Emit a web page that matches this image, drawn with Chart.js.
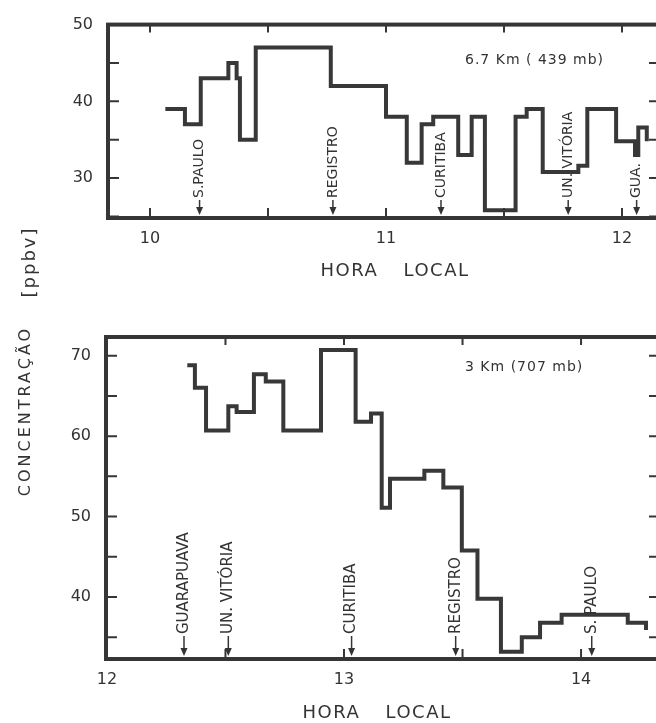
<!DOCTYPE html>
<html>
<head>
<meta charset="utf-8">
<script src="https://cdn.jsdelivr.net/npm/chart.js@4.4.1/dist/chart.umd.min.js"></script>
<style>
    html, body { margin: 0; padding: 0; background: #fff; overflow: hidden; }
    #pagina { position: relative; width: 656px; height: 723px; overflow: hidden; }
    .painel { position: absolute; left: 0; }
    .rotulo { position: absolute; font-family: "DejaVu Sans"; color: #333; white-space: nowrap;
              transform: translate(-50%, -50%) rotate(-90deg); }
</style>
</head>
<body>
<div id="pagina">
    <canvas id="graficoTopo" class="painel" width="668" height="300" style="top:0px"></canvas>
    <canvas id="graficoBase" class="painel" width="668" height="423" style="top:300px"></canvas>
    <div class="rotulo" style="left:24px; top:411px; font-size:16px; letter-spacing:3px;">CONCENTRAÇÃO</div>
    <div class="rotulo" style="left:28px; top:262px; font-size:18px; letter-spacing:2px;">[ppbv]</div>
</div>

<script>
    // 6.7 Km (439 mb): inicio de cada degrau (hora local) e concentracao (ppbv)
    var horaTopo = [10.065, 10.148, 10.215, 10.332, 10.367, 10.381, 10.448, 10.766, 11.0, 11.088, 11.151, 11.2,
                    11.306, 11.363, 11.419, 11.549, 11.596, 11.664, 11.815, 11.853, 11.975, 12.055, 12.069, 12.105];
    var concTopo = [39, 37, 43, 45, 43, 35, 47, 42, 38, 32, 37, 38,
                    33, 38, 25.8, 38, 39, 30.8, 31.6, 39, 34.8, 33, 36.6, 34.8];

    // 3 Km (707 mb)
    var horaBase = [12.339, 12.371, 12.418, 12.512, 12.547, 12.62, 12.67, 12.744, 12.903, 13.049, 13.114, 13.159,
                    13.194, 13.339, 13.419, 13.497, 13.563, 13.662, 13.75, 13.827, 13.918, 14.197, 14.274];
    var concBase = [68.8, 66.0, 60.7, 63.7, 63.0, 67.7, 66.8, 60.7, 70.7, 61.8, 62.8, 51.1,
                    54.7, 55.7, 53.6, 45.8, 39.8, 33.2, 35.0, 36.8, 37.8, 36.8, 35.9];

    // passagens pelas estacoes
    var estacoesTopo = ['S.PAULO', 'REGISTRO', 'CURITIBA', 'UN. VITÓRIA', 'GUA.'];
    var horaEstTopo = [10.21, 10.775, 11.233, 11.772, 12.062];
    var estacoesBase = ['GUARAPUAVA', 'UN. VITÓRIA', 'CURITIBA', 'REGISTRO', 'S. PAULO'];
    var horaEstBase = [12.325, 12.512, 13.032, 13.471, 14.045];

    // marcas dos eixos
    var ticksHoraTopo = [10, 10.5, 11, 11.5, 12];
    var ticksConcTopo = [25, 30, 35, 40, 45, 50];
    var ticksHoraBase = [12, 12.5, 13, 13.5, 14];
    var ticksConcBase = [35, 40, 45, 50, 55, 60, 65, 70];

    Chart.defaults.font.family = 'DejaVu Sans';
    Chart.defaults.color = '#333';

    var moldura = {
        id: 'moldura',
        afterDraw: function (chart, args, opts) {
            var ctx = chart.ctx;
            var a = chart.chartArea;
            var sx = chart.scales.x;
            var sy = chart.scales.y;
            ctx.save();
            ctx.strokeStyle = '#363636';
            ctx.fillStyle = '#333';

            // marcas para dentro nos quatro lados
            ctx.lineWidth = 2;
            ctx.beginPath();
            opts.xTicks.forEach(function (v) {
                var px = sx.getPixelForValue(v);
                ctx.moveTo(px, a.top); ctx.lineTo(px, a.top + 8);
                ctx.moveTo(px, a.bottom); ctx.lineTo(px, a.bottom - 10);
            });
            opts.yTicks.forEach(function (v) {
                var py = sy.getPixelForValue(v);
                ctx.moveTo(a.left, py); ctx.lineTo(a.left + 11, py);
                ctx.moveTo(a.right, py); ctx.lineTo(a.right - 11, py);
            });
            ctx.stroke();

            ctx.lineWidth = 4;
            ctx.strokeRect(a.left, a.top, a.right - a.left, a.bottom - a.top);

            // estacoes: seta e nome na vertical
            ctx.font = opts.fonteEstacao;
            opts.estacoes.forEach(function (nome, i) {
                var px = sx.getPixelForValue(opts.horas[i]);
                var base = a.bottom - 3;
                ctx.lineWidth = 1.5;
                ctx.beginPath();
                ctx.moveTo(px, a.bottom - opts.vao + 2);
                ctx.lineTo(px, base - 4);
                ctx.stroke();
                ctx.beginPath();
                ctx.moveTo(px - 3.5, base - 8);
                ctx.lineTo(px, base);
                ctx.lineTo(px + 3.5, base - 8);
                ctx.closePath();
                ctx.fill();
                ctx.save();
                ctx.translate(px, a.bottom - opts.vao);
                ctx.rotate(-Math.PI / 2);
                ctx.textAlign = 'left';
                ctx.textBaseline = 'middle';
                ctx.fillText(nome, 0, 0);
                ctx.restore();
            });

            // altitude do voo
            ctx.font = '14px "DejaVu Sans"';
            ctx.letterSpacing = '1px';
            ctx.textAlign = 'left';
            ctx.textBaseline = 'middle';
            ctx.fillText(opts.altitude, opts.altX, a.top + opts.altDy);

            // titulo do eixo x
            ctx.font = '18px "DejaVu Sans"';
            ctx.letterSpacing = '1.5px';
            ctx.wordSpacing = '18px';
            ctx.textAlign = 'center';
            ctx.fillText('HORA LOCAL', opts.horaX, a.bottom + opts.horaDy);
            ctx.restore();
        }
    };

    function criaGrafico(id, horas, conc, cfg) {
        var ctx = document.getElementById(id).getContext('2d');
        return new Chart(ctx, {
            type: 'line',
            data: {
                datasets: [{
                    data: horas.map(function (h, i) { return { x: h, y: conc[i] }; }),
                    stepped: true,
                    borderColor: '#383838',
                    borderWidth: 4,
                    borderJoinStyle: 'miter',
                    pointRadius: 0,
                    fill: false
                }]
            },
            options: {
                responsive: false,
                animation: false,
                layout: { padding: { top: cfg.topo, right: 8, left: 0, bottom: 0 } },
                plugins: {
                    legend: { display: false },
                    tooltip: { enabled: false },
                    moldura: cfg.moldura
                },
                scales: {
                    x: {
                        type: 'linear',
                        min: cfg.xMin, max: cfg.xMax,
                        afterBuildTicks: function (s) { s.ticks = cfg.xTicks.map(function (v) { return { value: v }; }); },
                        afterFit: function (s) { s.height = cfg.alturaX; },
                        grid: { display: false, drawTicks: false },
                        border: { display: false },
                        ticks: {
                            padding: 11,
                            maxRotation: 0,
                            autoSkip: false,
                            font: { size: 16 },
                            callback: function (v) { return v % 1 === 0 ? v : ''; }
                        }
                    },
                    y: {
                        type: 'linear',
                        min: cfg.yMin, max: cfg.yMax,
                        afterBuildTicks: function (s) { s.ticks = cfg.yTicks.map(function (v) { return { value: v }; }); },
                        afterFit: function (s) { s.width = cfg.larguraY; },
                        grid: { display: false, drawTicks: false },
                        border: { display: false },
                        ticks: {
                            padding: 15,
                            font: { size: 16 },
                            callback: function (v) { return v % 10 === 0 ? v : ''; }
                        }
                    }
                }
            },
            plugins: [moldura]
        });
    }

    criaGrafico('graficoTopo', horaTopo, concTopo, {
        topo: 19, larguraY: 108, alturaX: 82,
        xMin: 9.822, xMax: 12.161, yMin: 24.8, yMax: 50,
        xTicks: ticksHoraTopo, yTicks: ticksConcTopo,
        moldura: {
            xTicks: ticksHoraTopo, yTicks: ticksConcTopo,
            estacoes: estacoesTopo, horas: horaEstTopo,
            fonteEstacao: '14px "DejaVu Sans"', vao: 20,
            altitude: '6.7 Km ( 439 mb)', altX: 465, altDy: 36,
            horaX: 395, horaDy: 53
        }
    });

    criaGrafico('graficoBase', horaBase, concBase, {
        topo: 37, larguraY: 106, alturaX: 64,
        xMin: 11.996, xMax: 14.333, yMin: 32.3, yMax: 72.32,
        xTicks: ticksHoraBase, yTicks: ticksConcBase,
        moldura: {
            xTicks: ticksHoraBase, yTicks: ticksConcBase,
            estacoes: estacoesBase, horas: horaEstBase,
            fonteEstacao: '15px "DejaVu Sans"', vao: 25,
            altitude: '3 Km (707 mb)', altX: 465, altDy: 30,
            horaX: 377, horaDy: 54
        }
    });
</script>
</body>
</html>
